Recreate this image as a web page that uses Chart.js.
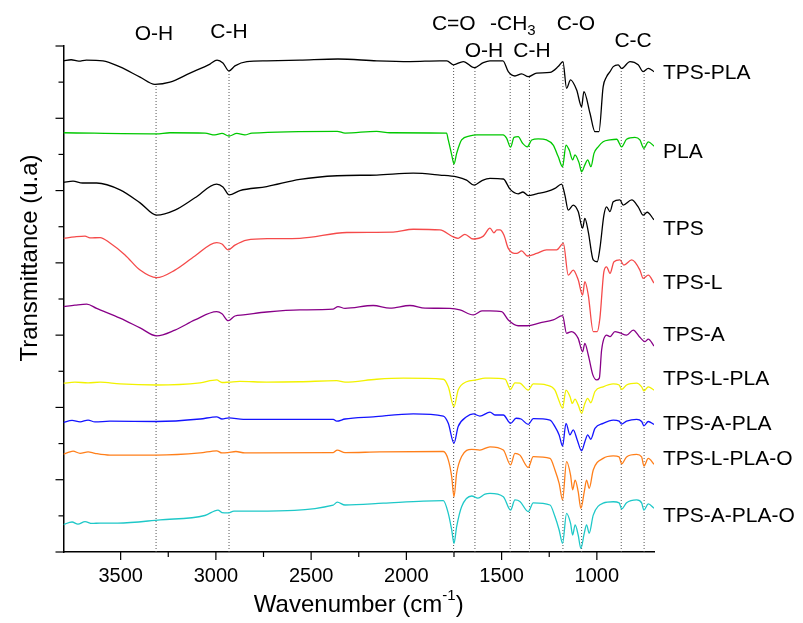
<!DOCTYPE html>
<html>
<head>
<meta charset="utf-8">
<script src="https://cdn.jsdelivr.net/npm/chart.js@4.4.0/dist/chart.umd.min.js"></script>
<style>
    html, body { margin: 0; padding: 0; background: #fff; }
    #wrap { width: 803px; height: 623px; }
</style>
</head>
<body>
<div id="wrap"><canvas id="ftirChart" width="803" height="623"></canvas></div>
<script>
// [wavenumber (cm-1), transmittance with offset (u.a)]
const tpsPla = [
    [3800,135.9],[3760,136.2],[3720,135.8],[3680,136.1],[3593,135.9],[3503,134.2],[3398,131.4],[3320,129.4],[3241,130.0],
    [3136,132.5],[3031,135.0],[2994,136.1],[2963,135.3],[2931,133.1],[2900,134.5],[2837,135.7],[2732,135.9],
    [2559,136.1],[2359,136.4],[2155,135.9],[1981,135.7],[1824,135.9],[1787,135.9],[1754,134.8],[1701,135.7],
    [1644,134.0],[1596,135.4],[1561,135.9],[1493,135.9],[1465,132.9],[1430,131.7],[1395,132.3],[1360,131.5],
    [1316,132.5],[1246,132.7],[1203,134.3],[1178,135.7],[1159,128.3],[1138,130.6],[1106,127.8],[1080,123.2],
    [1068,127.4],[1036,121.4],[1010,116.3],[989,116.3],[967,128.7],[949,131.5],[931,132.9],[914,134.3],
    [888,134.8],[870,133.8],[826,135.7],[783,134.8],[757,132.9],[730,133.8],[700,132.9]
];
const pla = [
    [3800,116.0],[3314,115.7],[3241,116.0],[3057,115.9],[3005,115.4],[2968,115.8],[2931,115.1],[2890,115.8],
    [2848,115.4],[2811,115.9],[2363,116.4],[2322,115.9],[2156,116.4],[2086,116.0],[1789,115.9],[1780,114.0],
    [1762,109.9],[1750,107.4],[1736,110.3],[1710,114.0],[1666,115.1],[1631,115.4],[1492,115.4],[1474,114.5],
    [1453,112.0],[1435,114.7],[1413,114.9],[1390,113.1],[1365,112.1],[1342,114.0],[1308,114.3],[1264,114.0],
    [1229,112.6],[1203,109.4],[1180,106.6],[1162,112.6],[1145,111.2],[1127,108.5],[1115,109.9],[1093,107.6],
    [1080,105.2],[1063,107.1],[1048,108.5],[1031,106.6],[1015,110.3],[993,112.1],[967,113.5],[931,114.0],
    [896,114.2],[870,112.1],[844,114.2],[800,114.7],[774,114.0],[753,111.7],[730,113.5],[700,112.3]
];
const tps = [
    [3800,102.3],[3750,102.6],[3700,102.1],[3626,102.1],[3503,100.2],[3398,96.6],[3311,93.2],[3215,94.6],
    [3110,98.0],[2996,101.8],[2963,101.0],[2930,98.8],[2874,100.0],[2733,101.1],[2559,103.1],[2363,104.1],
    [2156,104.3],[1964,104.8],[1824,104.3],[1736,103.8],[1684,102.9],[1644,101.5],[1605,102.7],[1561,103.4],
    [1491,103.2],[1456,100.4],[1413,99.1],[1388,99.6],[1360,98.6],[1316,99.1],[1264,99.7],[1220,100.6],
    [1185,101.8],[1168,98.8],[1150,94.6],[1124,96.0],[1098,94.2],[1075,89.6],[1063,92.3],[1045,88.6],
    [1019,80.8],[998,80.3],[984,84.0],[963,93.2],[949,95.5],[931,94.2],[914,96.9],[879,97.4],[862,96.0],
    [817,97.4],[783,95.5],[757,93.2],[736,94.0],[700,91.9]
];
const tpsL = [
    [3800,86.8],[3740,87.2],[3687,87.4],[3661,86.9],[3608,87.0],[3556,85.5],[3477,82.2],[3398,78.0],
    [3311,75.9],[3215,78.0],[3110,81.9],[2996,85.6],[2968,85.2],[2935,83.6],[2900,84.9],[2838,86.3],
    [2716,86.7],[2559,86.8],[2313,88.4],[2069,88.5],[1964,89.3],[1824,89.1],[1754,87.2],[1728,86.8],
    [1693,87.9],[1649,86.6],[1596,87.4],[1561,89.6],[1540,88.3],[1525,89.1],[1509,89.1],[1488,87.7],
    [1465,84.0],[1421,82.6],[1395,83.3],[1365,81.9],[1316,82.6],[1264,83.6],[1211,83.6],[1176,85.4],
    [1150,76.6],[1124,78.0],[1098,75.3],[1075,71.1],[1063,74.8],[1045,71.1],[1019,61.0],[998,61.0],
    [984,64.7],[963,77.6],[949,78.9],[931,77.1],[910,80.3],[879,80.8],[858,79.4],[817,80.8],[774,78.0],
    [757,75.7],[730,76.6],[700,74.4]
];
const tpsA = [
    [3800,67.9],[3740,68.3],[3678,68.6],[3626,67.4],[3503,64.7],[3398,62.0],[3311,59.8],[3215,61.4],
    [3110,64.2],[2996,66.5],[2968,65.9],[2935,64.0],[2900,65.3],[2856,65.6],[2733,66.4],[2559,67.0],
    [2384,67.2],[2359,67.9],[2322,67.4],[2174,68.2],[2086,67.5],[1981,68.2],[1902,67.5],[1771,67.4],
    [1719,67.0],[1649,65.6],[1603,66.7],[1561,66.7],[1500,66.5],[1465,64.2],[1413,62.6],[1365,62.6],
    [1299,63.4],[1229,64.2],[1180,65.4],[1159,60.5],[1133,61.0],[1098,59.1],[1075,55.4],[1063,57.7],
    [1045,54.5],[1021,49.0],[1001,47.6],[987,48.1],[975,55.9],[949,60.0],[931,59.6],[905,61.0],[879,60.6],
    [844,60.0],[809,61.4],[774,59.4],[747,58.2],[730,58.9],[700,57.0]
];
const tpsLPla = [
    [3800,46.7],[3740,47.0],[3671,46.8],[3608,47.0],[3503,46.5],[3311,46.2],[3083,46.8],[2996,47.6],
    [2968,46.9],[2931,47.0],[2874,47.2],[2733,47.0],[2559,47.1],[2366,47.4],[2322,47.0],[2156,47.8],
    [2016,48.1],[1806,47.8],[1780,45.7],[1750,40.2],[1728,44.8],[1684,47.1],[1634,47.6],[1587,48.1],
    [1561,48.1],[1482,47.8],[1453,45.0],[1430,46.8],[1404,46.7],[1360,44.8],[1334,46.5],[1264,46.2],
    [1220,44.8],[1203,42.5],[1180,39.8],[1162,44.8],[1141,43.0],[1129,41.1],[1115,42.3],[1098,40.7],
    [1080,38.4],[1063,41.1],[1048,42.5],[1032,41.3],[1010,44.4],[967,45.7],[914,46.5],[883,46.2],
    [870,45.0],[844,46.2],[791,46.7],[765,45.7],[753,44.6],[730,45.7],[700,44.8]
];
const tpsAPla = [
    [3800,35.8],[3755,36.4],[3713,36.0],[3671,36.5],[3635,36.0],[3556,36.2],[3311,36.1],[3083,36.8],
    [2996,37.4],[2968,36.8],[2931,37.1],[2856,36.7],[2384,36.7],[2366,36.2],[2322,36.8],[2174,37.4],
    [1964,38.2],[1806,37.6],[1780,35.6],[1750,30.1],[1728,34.7],[1684,37.4],[1649,38.2],[1614,37.6],
    [1561,38.7],[1535,37.9],[1491,37.9],[1453,35.6],[1424,37.0],[1398,36.8],[1360,35.3],[1334,36.9],
    [1246,36.5],[1220,34.7],[1198,32.4],[1180,29.3],[1162,35.6],[1141,32.4],[1124,33.8],[1103,31.0],
    [1080,28.0],[1063,30.5],[1048,32.4],[1032,31.2],[1010,34.2],[967,35.6],[914,36.5],[883,36.2],
    [870,35.4],[844,36.2],[791,36.7],[765,36.1],[753,34.9],[730,36.1],[700,35.3]
];
const tpsLPlaO = [
    [3800,27.1],[3766,27.7],[3750,27.9],[3713,27.3],[3671,27.7],[3635,27.3],[3556,26.8],[3311,26.8],
    [3083,27.4],[2996,28.0],[2968,27.4],[2937,27.5],[2895,27.8],[2848,27.4],[2384,27.5],[2363,28.2],
    [2322,27.5],[2139,27.7],[1806,27.8],[1780,25.5],[1762,20.8],[1750,15.3],[1736,21.8],[1710,26.4],
    [1657,28.4],[1614,28.2],[1561,29.1],[1491,28.2],[1453,24.1],[1430,27.3],[1404,26.8],[1360,23.4],
    [1334,26.4],[1246,25.9],[1220,22.7],[1198,19.0],[1180,14.4],[1159,25.0],[1138,21.3],[1127,17.2],
    [1114,19.9],[1098,16.7],[1084,12.1],[1066,16.7],[1054,19.9],[1040,17.6],[1019,22.7],[967,25.9],
    [914,26.6],[883,26.3],[870,24.4],[844,26.3],[791,27.0],[765,26.3],[753,23.8],[730,25.9],[700,24.3]
];
const tpsAPlaO = [
    [3800,7.6],[3755,8.3],[3724,7.7],[3687,8.4],[3650,7.9],[3608,8.0],[3515,8.0],[3293,8.9],[3058,10.1],
    [2989,11.6],[2968,10.9],[2938,10.8],[2905,11.3],[2790,11.3],[2384,13.0],[2363,13.8],[2322,13.0],
    [2121,13.5],[1911,14.1],[1806,14.2],[1780,10.7],[1762,6.1],[1750,2.4],[1736,7.0],[1710,12.5],
    [1657,15.5],[1624,14.9],[1587,16.0],[1561,16.2],[1491,15.3],[1453,11.6],[1430,14.4],[1404,14.0],
    [1360,11.2],[1334,13.6],[1246,13.0],[1220,9.8],[1198,6.1],[1180,2.4],[1159,10.7],[1138,7.9],
    [1127,4.7],[1114,7.5],[1098,4.7],[1084,1.0],[1066,5.2],[1054,7.5],[1040,5.2],[1019,10.2],[967,13.5],
    [914,13.9],[883,13.6],[870,11.9],[844,13.6],[791,14.4],[765,13.6],[753,11.6],[730,13.3],[700,12.1]
];

const seriesNames = ['TPS-PLA', 'PLA', 'TPS', 'TPS-L', 'TPS-A', 'TPS-L-PLA', 'TPS-A-PLA', 'TPS-L-PLA-O', 'TPS-A-PLA-O'];
const seriesData = [tpsPla, pla, tps, tpsL, tpsA, tpsLPla, tpsAPla, tpsLPlaO, tpsAPlaO];
const seriesColors = ['#000000', '#00c800', '#000000', '#f54a4a', '#880088', '#f2f200', '#1414ff', '#ff7f1a', '#1ec8c8'];
// level (in y units) where each name sits at the right
const labelLevels = [132.5, 110.7, 89.2, 74.4, 59.9, 47.7, 35.4, 25.7, 10.0];

// band positions (cm-1) marked with dotted lines
const bandMarks = [3314, 2931, 1752, 1640, 1455, 1354, 1178, 1080, 872, 752];
const bandNames = ['O-H', 'C-H', 'C=O', 'O-H', '-CH3', 'C-H', 'C-O', 'C-C'];
const bandNameWn = [3325, 2931, 1751, 1593, 1441, 1341, 1110, 810];
const bandNameTop = [34, 32, 24, 51, 24, 51, 24, 41];

const FONT = '"Liberation Sans", Arial, sans-serif';

function valueAt(series, wn) {
    for (let i = 0; i < series.length - 1; i++) {
        const a = series[i], b = series[i + 1];
        if (wn <= a[0] && wn >= b[0]) {
            const t = (a[0] - wn) / (a[0] - b[0]);
            return a[1] + (b[1] - a[1]) * t;
        }
    }
    return series[series.length - 1][1];
}

const datasets = [];
seriesData.forEach(function (s, i) {
    datasets.push({
        label: seriesNames[i],
        data: s.map(p => ({ x: p[0], y: p[1] })),
        borderColor: seriesColors[i],
        borderWidth: 1.3,
        pointRadius: 0,
        cubicInterpolationMode: 'monotone',
        order: 1
    });
});
bandMarks.forEach(function (wn) {
    datasets.push({
        label: 'band ' + wn,
        data: [{ x: wn, y: 0 }, { x: wn, y: valueAt(tpsPla, wn) }],
        borderColor: '#555',
        borderWidth: 1,
        borderDash: [1, 2],
        pointRadius: 0,
        order: 5
    });
});

const decorations = {
    id: 'decorations',
    afterDraw(chart) {
        const ctx = chart.ctx;
        const area = chart.chartArea;
        const x = chart.scales.x;
        const y = chart.scales.y;
        ctx.save();

        // tick marks, longer on the major ones
        ctx.strokeStyle = '#000';
        ctx.lineWidth = 1.2;
        x.ticks.forEach(function (t) {
            const px = x.getPixelForValue(t.value);
            const len = t.value % 500 === 0 ? 8 : 5;
            ctx.beginPath();
            ctx.moveTo(px, area.bottom);
            ctx.lineTo(px, area.bottom + len);
            ctx.stroke();
        });
        y.ticks.forEach(function (t) {
            const py = y.getPixelForValue(t.value);
            const len = t.value % 20 === 0 ? 8 : 5;
            ctx.beginPath();
            ctx.moveTo(area.left, py);
            ctx.lineTo(area.left - len, py);
            ctx.stroke();
        });

        // sample names
        ctx.fillStyle = '#000';
        ctx.font = '21px ' + FONT;
        ctx.textAlign = 'left';
        ctx.textBaseline = 'middle';
        seriesNames.forEach(function (n, i) {
            ctx.fillText(n, area.right + 9, y.getPixelForValue(labelLevels[i]));
        });

        // band names
        ctx.textAlign = 'center';
        bandNames.forEach(function (n, i) {
            const cx = x.getPixelForValue(bandNameWn[i]);
            const cy = bandNameTop[i];
            if (n === '-CH3') {
                const main = '-CH';
                const w1 = ctx.measureText(main).width;
                ctx.font = '15px ' + FONT;
                const w2 = ctx.measureText('3').width;
                ctx.font = '21px ' + FONT;
                ctx.textAlign = 'left';
                const left = cx - (w1 + w2) / 2;
                ctx.fillText(main, left, cy);
                ctx.font = '15px ' + FONT;
                ctx.fillText('3', left + w1, cy + 7);
                ctx.font = '21px ' + FONT;
                ctx.textAlign = 'center';
            } else {
                ctx.fillText(n, cx, cy);
            }
        });

        // x title with superscript
        ctx.font = '24px ' + FONT;
        const p1 = 'Wavenumber (cm';
        const p3 = ')';
        const w1 = ctx.measureText(p1).width;
        const w3 = ctx.measureText(p3).width;
        ctx.font = '15px ' + FONT;
        const w2 = ctx.measureText('-1').width;
        const start = (area.left + area.right) / 2 - (w1 + w2 + w3) / 2;
        const ty = 605;
        ctx.textAlign = 'left';
        ctx.font = '24px ' + FONT;
        ctx.fillText(p1, start, ty);
        ctx.font = '15px ' + FONT;
        ctx.fillText('-1', start + w1, ty - 9);
        ctx.font = '24px ' + FONT;
        ctx.fillText(p3, start + w1 + w2, ty);

        // y title
        ctx.translate(30, 258);
        ctx.rotate(-Math.PI / 2);
        ctx.textAlign = 'center';
        ctx.fillText('Transmittance (u.a)', 0, 0);
        ctx.restore();
    }
};

const chart = new Chart(document.getElementById('ftirChart'), {
    type: 'line',
    data: { datasets: datasets },
    options: {
        responsive: false,
        animation: false,
        layout: { padding: { left: 0, top: 46, right: 149, bottom: 31 } },
        plugins: {
            legend: { display: false },
            tooltip: { enabled: false }
        },
        scales: {
            x: {
                type: 'linear',
                reverse: true,
                min: 700,
                max: 3800,
                afterBuildTicks: function (scale) {
                    scale.ticks = scale.ticks.filter(t => t.value % 250 === 0);
                },
                afterFit: function (scale) { scale.height = 40; },
                ticks: {
                    stepSize: 250,
                    autoSkip: false,
                    maxRotation: 0,
                    padding: 4,
                    color: '#000',
                    font: { family: FONT, size: 20 },
                    callback: function (v) { return v % 500 === 0 ? String(v) : ''; }
                },
                grid: { display: false },
                border: { display: true, color: '#000', width: 1.5 }
            },
            y: {
                min: 0,
                max: 140,
                afterFit: function (scale) { scale.width = 63.5; },
                ticks: {
                    stepSize: 10,
                    callback: function () { return ''; }
                },
                grid: { display: false },
                border: { display: true, color: '#000', width: 1.5 }
            }
        }
    },
    plugins: [decorations]
});
</script>
</body>
</html>
